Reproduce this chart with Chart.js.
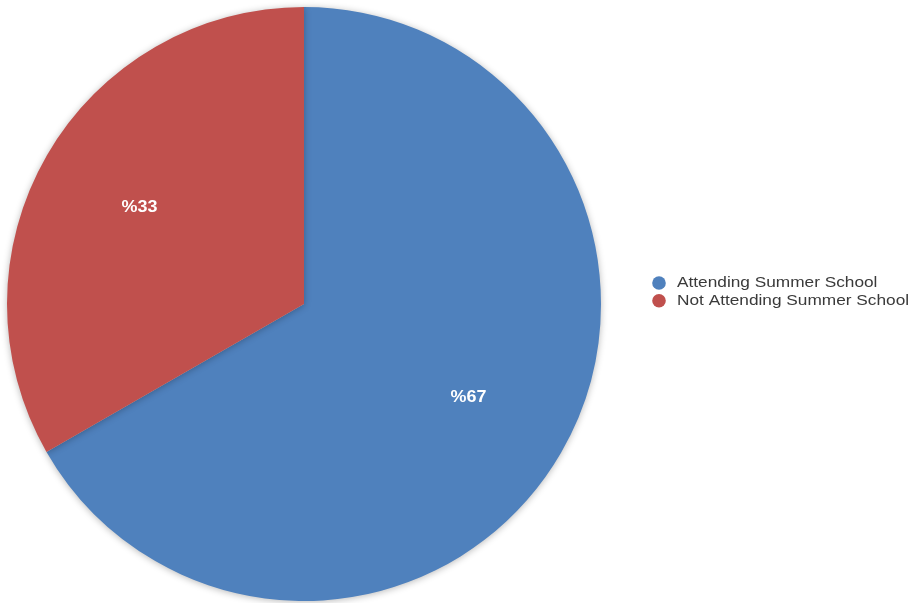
<!DOCTYPE html>
<html>
<head>
<meta charset="utf-8">
<script src="https://cdn.jsdelivr.net/npm/chart.js@4"></script>
<style>
html,body{margin:0;padding:0;background:#fff;}
#wrap{width:909px;height:603px;}
</style>
</head>
<body>
<div id="wrap"><canvas id="c" width="909" height="603"></canvas></div>
<script>
const categories = ["Attending Summer School", "Not Attending Summer School"];
const values = [66.7, 33.3];
const valueLabels = ["%67", "%33"];
const colors = ["#4F81BD", "#C0504D"];

const shadowPlugin = {
  id: 'shadow',
  beforeDatasetsDraw(chart) {
    const ctx = chart.ctx;
    ctx.save();
    ctx.shadowColor = 'rgba(0,0,0,0.28)';
    ctx.shadowBlur = 7;
    ctx.shadowOffsetX = 0;
    ctx.shadowOffsetY = 1;
  },
  afterDatasetsDraw(chart) {
    chart.ctx.restore();
  }
};

const labelPlugin = {
  id: 'sliceLabels',
  afterDatasetsDraw(chart) {
    const ctx = chart.ctx;
    const meta = chart.getDatasetMeta(0);
    ctx.save();
    ctx.font = 'bold 16px "Liberation Sans", Arial, sans-serif';
    ctx.fillStyle = '#ffffff';
    ctx.textAlign = 'center';
    ctx.textBaseline = 'middle';
    meta.data.forEach((arc, i) => {
      const p = arc.getProps(['x','y','startAngle','endAngle','outerRadius'], true);
      const mid = (p.startAngle + p.endAngle) / 2;
      const d = p.outerRadius * 0.64;
      const lx = p.x + Math.cos(mid) * d;
      const ly = p.y + Math.sin(mid) * d - 1.5;
      ctx.save();
      ctx.translate(lx, ly);
      ctx.scale(1.12, 1);
      ctx.fillText(valueLabels[i], 0, 0);
      ctx.restore();
    });
    ctx.restore();
  }
};

const legendPlugin = {
  id: 'customLegend',
  afterDraw(chart) {
    const ctx = chart.ctx;
    ctx.save();
    ctx.font = '14.5px "Liberation Sans", Arial, sans-serif';
    ctx.textBaseline = 'middle';
    ctx.textAlign = 'left';
    const x0 = 659, y0 = 283, step = 17.8;
    categories.forEach((name, i) => {
      const y = y0 + i * step;
      ctx.beginPath();
      ctx.arc(x0, y, 6.8, 0, Math.PI * 2);
      ctx.fillStyle = colors[i];
      ctx.fill();
      ctx.save();
      ctx.translate(677, y);
      ctx.scale(1.19, 1);
      ctx.fillStyle = '#3a3a3a';
      ctx.fillText(name, 0, 0);
      ctx.restore();
    });
    ctx.restore();
  }
};

new Chart(document.getElementById('c'), {
  type: 'pie',
  data: {
    labels: categories,
    datasets: [{
      data: values,
      backgroundColor: colors,
      borderWidth: 0
    }]
  },
  options: {
    responsive: false,
    animation: false,
    layout: { padding: { top: 7, bottom: 2, left: 7, right: 308 } },
    plugins: {
      legend: { display: false },
      tooltip: { enabled: false }
    }
  },
  plugins: [shadowPlugin, labelPlugin, legendPlugin]
});
</script>
</body>
</html>
